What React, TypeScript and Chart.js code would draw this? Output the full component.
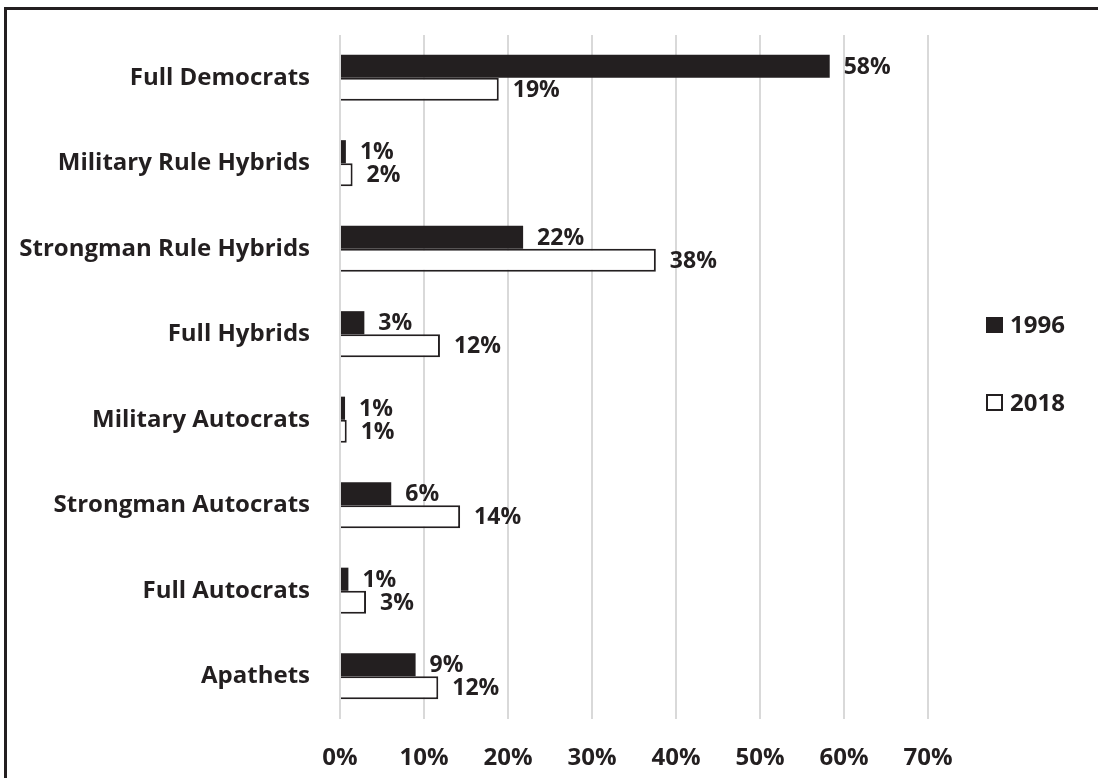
import React, { useEffect, useRef } from "react";
import { Chart, registerables } from "chart.js";

Chart.register(...registerables);

const categories = [
  "Full Democrats",
  "Military Rule Hybrids",
  "Strongman Rule Hybrids",
  "Full Hybrids",
  "Military Autocrats",
  "Strongman Autocrats",
  "Full Autocrats",
  "Apathets",
];
const values1996 = [58.3, 0.7, 21.8, 2.9, 0.6, 6.1, 1.0, 9.0];
const values2018 = [18.9, 1.5, 37.6, 11.9, 0.8, 14.3, 3.1, 11.7];
const seriesNames = ["1996", "2018"];
const xTicks = [0, 10, 20, 30, 40, 50, 60, 70];

const INK = "#231f20";
const FONT = "'Open Sans', sans-serif";

const dataLabels = {
  id: "dataLabels",
  afterDatasetsDraw(chart: any) {
    const ctx = chart.ctx;
    ctx.save();
    ctx.font = `bold 23px ${FONT}`;
    ctx.fillStyle = INK;
    ctx.textAlign = "left";
    ctx.textBaseline = "middle";
    chart.data.datasets.forEach((ds: any, di: number) => {
      const meta = chart.getDatasetMeta(di);
      meta.data.forEach((el: any, i: number) => {
        const v = ds.data[i];
        ctx.fillText(`${Math.round(v)}%`, el.x + 14, el.y + 1);
      });
    });
    ctx.restore();
  },
};

const sideLegend = {
  id: "sideLegend",
  afterDraw(chart: any) {
    const ctx = chart.ctx;
    ctx.save();
    ctx.font = `bold 24px ${FONT}`;
    ctx.textAlign = "left";
    ctx.textBaseline = "middle";
    const ys = [325, 403];
    chart.data.datasets.forEach((ds: any, di: number) => {
      const y = ys[di];
      const x = 986;
      if (di === 0) {
        ctx.fillStyle = INK;
        ctx.fillRect(x, y - 8, 17, 16);
      } else {
        ctx.strokeStyle = INK;
        ctx.lineWidth = 2;
        ctx.strokeRect(x + 1, y - 8, 15, 15);
      }
      ctx.fillStyle = INK;
      ctx.fillText(ds.label, x + 24, y + 1);
    });
    ctx.restore();
  },
};

export default function App() {
  const ref = useRef<HTMLCanvasElement>(null);
  useEffect(() => {
    if (!ref.current) return;
    const chart = new Chart(ref.current, {
      type: "bar",
      data: {
        labels: categories,
        datasets: [
          {
            label: seriesNames[0],
            data: values1996,
            backgroundColor: INK,
            borderColor: INK,
            borderWidth: 0,
            categoryPercentage: 0.54,
            barPercentage: 1,
          },
          {
            label: seriesNames[1],
            data: values2018,
            backgroundColor: "#ffffff",
            borderColor: INK,
            borderWidth: 2,
            categoryPercentage: 0.54,
            barPercentage: 1,
          },
        ],
      },
      options: {
        indexAxis: "y",
        animation: false,
        responsive: false,
        maintainAspectRatio: false,
        layout: { padding: { top: 35, right: 170, bottom: 0, left: 0 } },
        plugins: {
          legend: { display: false },
          tooltip: { enabled: false },
        },
        scales: {
          x: {
            min: 0,
            max: 70,
            afterBuildTicks: (scale: any) => {
              scale.ticks = xTicks.map((v) => ({ value: v }));
            },
            afterFit: (scale: any) => {
              scale.height = 59;
            },
            grid: { color: "#d9d9d9", lineWidth: 2, drawTicks: false },
            border: { display: false },
            ticks: {
              padding: 25,
              color: INK,
              font: { family: FONT, size: 24, weight: "bold" },
              callback: (v: any) => `${v}%`,
            },
          },
          y: {
            afterFit: (scale: any) => {
              scale.width = 340;
              scale.paddingTop = 0;
              scale.paddingBottom = 0;
            },
            grid: { display: false, drawTicks: false },
            border: { display: false },
            ticks: {
              padding: 30,
              color: INK,
              font: { family: FONT, size: 24, weight: "bold" },
            },
          },
        },
      },
      plugins: [dataLabels, sideLegend],
    });
    return () => chart.destroy();
  }, []);
  return (
    <div style={{ position: "fixed", left: 0, top: 0, width: 1098, height: 778, background: "#fff" }}>
      <canvas ref={ref} width={1098} height={778} style={{ position: "absolute", left: 0, top: 0, width: 1098, height: 778 }} />
      <div
        style={{
          position: "absolute",
          left: 4,
          top: 7,
          right: 0,
          bottom: 0,
          borderTop: `3px solid ${INK}`,
          borderLeft: `3px solid ${INK}`,
          pointerEvents: "none",
        }}
      />
    </div>
  );
}
